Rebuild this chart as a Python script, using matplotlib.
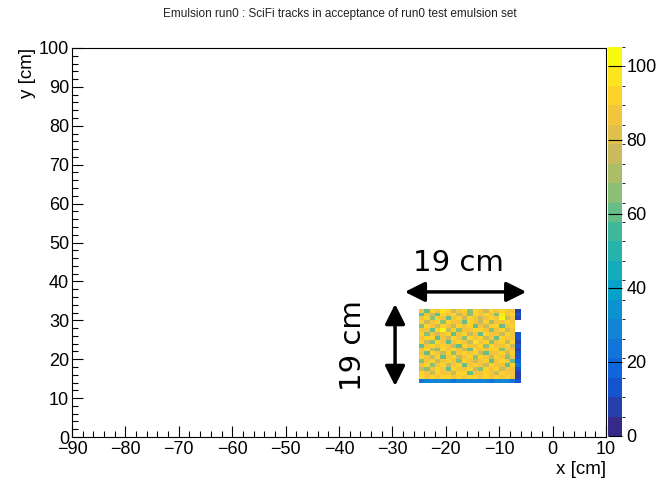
import numpy as np
import matplotlib
matplotlib.use("Agg")
import matplotlib.pyplot as plt
from matplotlib.colors import LinearSegmentedColormap, ListedColormap, BoundaryNorm
from matplotlib.patches import FancyArrowPatch

plt.rcParams['font.family'] = ['Liberation Sans', 'DejaVu Sans']

# ---- data ----
title = "Emulsion run0 : SciFi tracks in acceptance of run0 test emulsion set"
x_edges = list(range(-25, -5))   # 19 bins of 1 cm
y_edges = list(range(14, 34))    # 19 bins of 1 cm
# counts per bin, rows from top (y=32..33) to bottom (y=14..15), columns x=-25..-7
counts = [
    [85, 62, 90, 88, 95, 92, 78, 84, 90, 66, 94, 88, 78, 90, 87, 92, 88, 85, 10],
    [62, 88, 78, 60, 90, 86, 92, 76, 88, 64, 90, 86, 94, 88, 66, 98, 86, 92, 12],
    [88, 92, 66, 90, 85, 62, 88, 94, 78, 90, 86, 76, 88, 92, 86, 100, 78, 88, 9],
    [92, 78, 88, 90, 64, 94, 86, 88, 62, 92, 88, 78, 90, 70, 88, 84, 90, 86, 0],
    [66, 90, 86, 76, 92, 88, 74, 90, 86, 94, 62, 88, 78, 90, 92, 62, 88, 90, 0],
    [88, 86, 62, 92, 104, 78, 90, 64, 88, 84, 90, 92, 86, 66, 88, 90, 76, 88, 0],
    [90, 64, 88, 78, 86, 92, 60, 88, 90, 76, 84, 62, 92, 88, 86, 78, 92, 86, 14],
    [84, 90, 92, 60, 88, 76, 90, 86, 64, 92, 88, 90, 78, 88, 62, 90, 86, 88, 11],
    [92, 78, 66, 90, 86, 62, 88, 92, 86, 76, 98, 86, 90, 64, 88, 92, 78, 90, 10],
    [62, 88, 90, 86, 92, 88, 78, 62, 90, 88, 86, 92, 66, 90, 86, 88, 90, 76, 12],
    [88, 92, 78, 64, 90, 86, 92, 88, 76, 60, 90, 88, 86, 92, 90, 64, 88, 86, 9],
    [86, 62, 90, 88, 78, 92, 64, 86, 90, 88, 92, 78, 62, 88, 86, 90, 76, 92, 13],
    [90, 88, 76, 92, 62, 88, 90, 78, 86, 92, 64, 90, 88, 76, 92, 86, 66, 88, 11],
    [64, 86, 92, 78, 88, 90, 86, 64, 92, 88, 78, 86, 90, 62, 88, 92, 86, 60, 18],
    [88, 90, 64, 86, 92, 78, 88, 90, 62, 86, 90, 88, 78, 92, 86, 88, 62, 90, 24],
    [78, 64, 88, 90, 86, 62, 92, 86, 88, 90, 76, 64, 90, 86, 92, 78, 88, 86, 12],
    [90, 88, 78, 92, 88, 86, 76, 90, 92, 62, 88, 86, 92, 88, 78, 90, 86, 88, 10],
    [92, 86, 90, 88, 94, 90, 86, 92, 88, 90, 94, 88, 90, 86, 92, 88, 90, 84, 9],
    [26, 28, 30, 27, 29, 28, 26, 30, 28, 27, 29, 30, 28, 26, 27, 29, 28, 26, 14],
]
z_max = 105
cbar_ticks = [0, 20, 40, 60, 80, 100]

# ---- ROOT kBird palette ----
stops = [0.0, 0.125, 0.25, 0.375, 0.5, 0.625, 0.75, 0.875, 1.0]
red = [0.2082, 0.0592, 0.0780, 0.0232, 0.1802, 0.5301, 0.8186, 0.9956, 0.9764]
green = [0.1664, 0.3599, 0.5041, 0.6419, 0.7178, 0.7492, 0.7328, 0.7862, 0.9832]
blue = [0.5293, 0.8684, 0.8385, 0.7914, 0.6425, 0.4662, 0.3499, 0.1968, 0.0539]
base = LinearSegmentedColormap.from_list("bird", list(zip(stops, zip(red, green, blue))))
nlev = 20
cmap = ListedColormap([base(i / (nlev - 1)) for i in range(nlev)])
levels = np.linspace(0, z_max, nlev + 1)
norm = BoundaryNorm(levels, cmap.N)

W, H = 666, 483
fig = plt.figure(figsize=(W / 100, H / 100), dpi=100)
ax = fig.add_axes([72 / W, 1 - 437 / H, 534 / W, 389 / H])
cax = fig.add_axes([608 / W, 1 - 436 / H, 14 / W, 389 / H])

z = np.array(counts, dtype=float)[::-1]
zm = np.ma.masked_where(z <= 0, z)
mesh = ax.pcolormesh(x_edges, y_edges, zm, cmap=cmap, norm=norm)

ax.set_xlim(-90, 10)
ax.set_ylim(0, 100)
ax.set_xticks(np.arange(-90, 11, 10))
ax.set_xticks(np.arange(-90, 11, 2), minor=True)
ax.set_yticks(np.arange(0, 101, 10))
ax.set_yticks(np.arange(0, 101, 2), minor=True)
ax.tick_params(which='both', direction='in', top=False, right=False, labelsize=13, width=0.8)
ax.tick_params(which='major', length=8)
ax.tick_params(which='minor', length=4.5)
ax.tick_params(axis='x', pad=3)
ax.tick_params(axis='y', pad=2)
for s in ax.spines.values():
    s.set_linewidth(0.8)
ax.set_xlabel("x [cm]", loc='right', fontsize=13.5, labelpad=2)
ax.set_ylabel("y [cm]", loc='top', fontsize=13.5, labelpad=2)

fig.text(0.51, 1 - 14 / H, title, ha='center', va='center', fontsize=8.5, color='#222222')

# annotations
ax.add_patch(FancyArrowPatch((-28.2, 37.3), (-4.4, 37.3), arrowstyle='<|-|>,head_length=1.0,head_width=0.5',
                             mutation_scale=12, lw=2.5, color='black'))
ax.add_patch(FancyArrowPatch((-29.5, 12.4), (-29.5, 34.9), arrowstyle='<|-|>,head_length=1.0,head_width=0.5',
                             mutation_scale=12, lw=2.5, color='black'))
ax.text(-17.6, 44.7, "19 cm", fontsize=21, family='DejaVu Sans', ha='center', va='center')
ax.text(-37.4, 23.6, "19 cm", fontsize=21, family='DejaVu Sans', ha='center', va='center', rotation=90)

cb = fig.colorbar(mesh, cax=cax, boundaries=levels, ticks=cbar_ticks)
cb.outline.set_visible(False)
cax.tick_params(direction='in', length=10, width=0.8, labelsize=13, pad=3)

fig.savefig("out.png", dpi=100)
